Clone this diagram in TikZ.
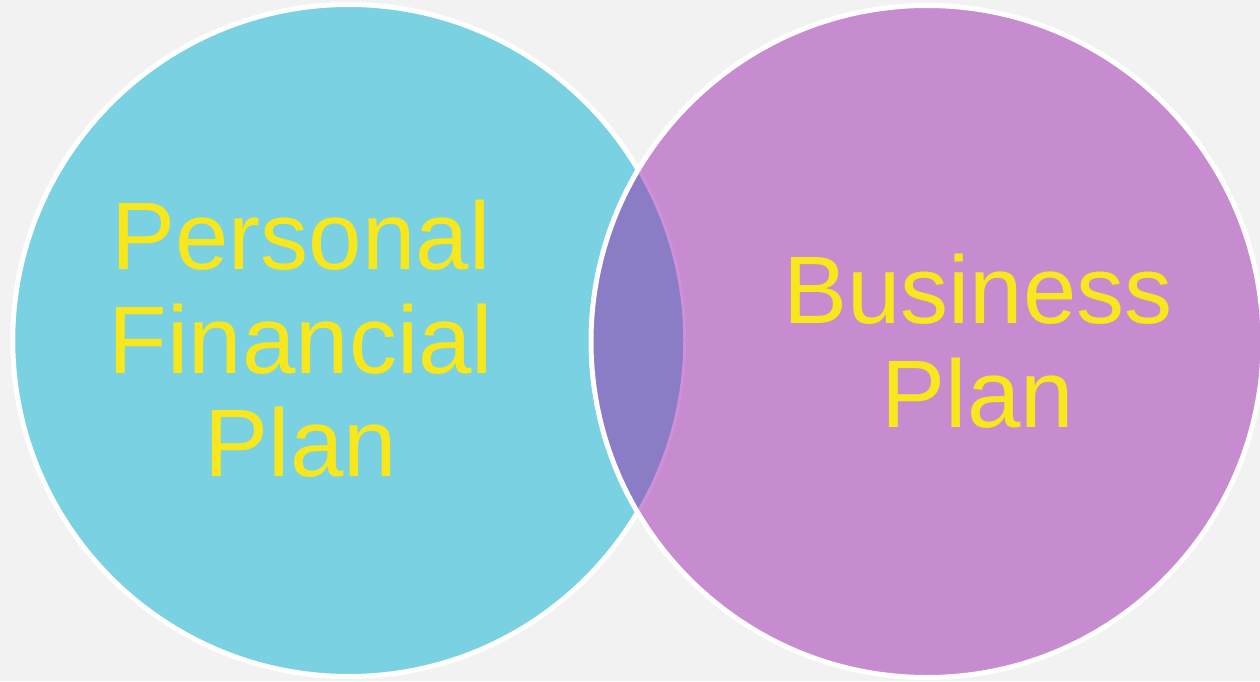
\documentclass[tikz,border=0pt]{standalone}
\usepackage{fontspec}
\setmainfont{Liberation Sans}
\definecolor{canvas}{HTML}{F2F2F2}
\definecolor{cyanfill}{HTML}{79D1E1}
\definecolor{orchidfill}{HTML}{C78BD0}
\definecolor{lensfill}{HTML}{8A7DC6}
\definecolor{lensrim}{HTML}{CF90DA}
\definecolor{labelyellow}{HTML}{F7E71C}
\tikzset{
  ring/.style={draw=white, line width=5pt},
  label/.style={text=labelyellow, inner sep=0pt, anchor=north, align=center,
    font=\fontsize{96}{103.5}\selectfont}
}
\begin{document}
\begin{tikzpicture}[x=1pt,y=1pt]
  % canvas
  \fill[canvas] (0,0) rectangle (1260,681);
  \useasboundingbox (0,0) rectangle (1260,681);
  \coordinate (cl) at (348.75,340.5);
  \coordinate (cr) at (927,339.5);
  % left circle
  \fill[cyanfill] (cl) circle (336);
  \draw[ring] (cl) circle (336);
  % right circle
  \fill[orchidfill] (cr) circle (336);
  % overlap lens
  \begin{scope}
    \clip (cl) circle (336);
    \fill[lensfill] (cr) circle (336);
  \end{scope}
  % faint rim of the left circle inside the right one
  \begin{scope}
    \clip (cr) circle (333);
    \draw[lensrim, line width=3pt] (cl) circle (336);
  \end{scope}
  \draw[ring] (cr) circle (336);
  % labels
  \node[label] (personal) at (301,481) {Personal\\Financial\\Plan};
  \node[label] (business) at (978,427) {Business\\Plan};
\end{tikzpicture}
\end{document}
